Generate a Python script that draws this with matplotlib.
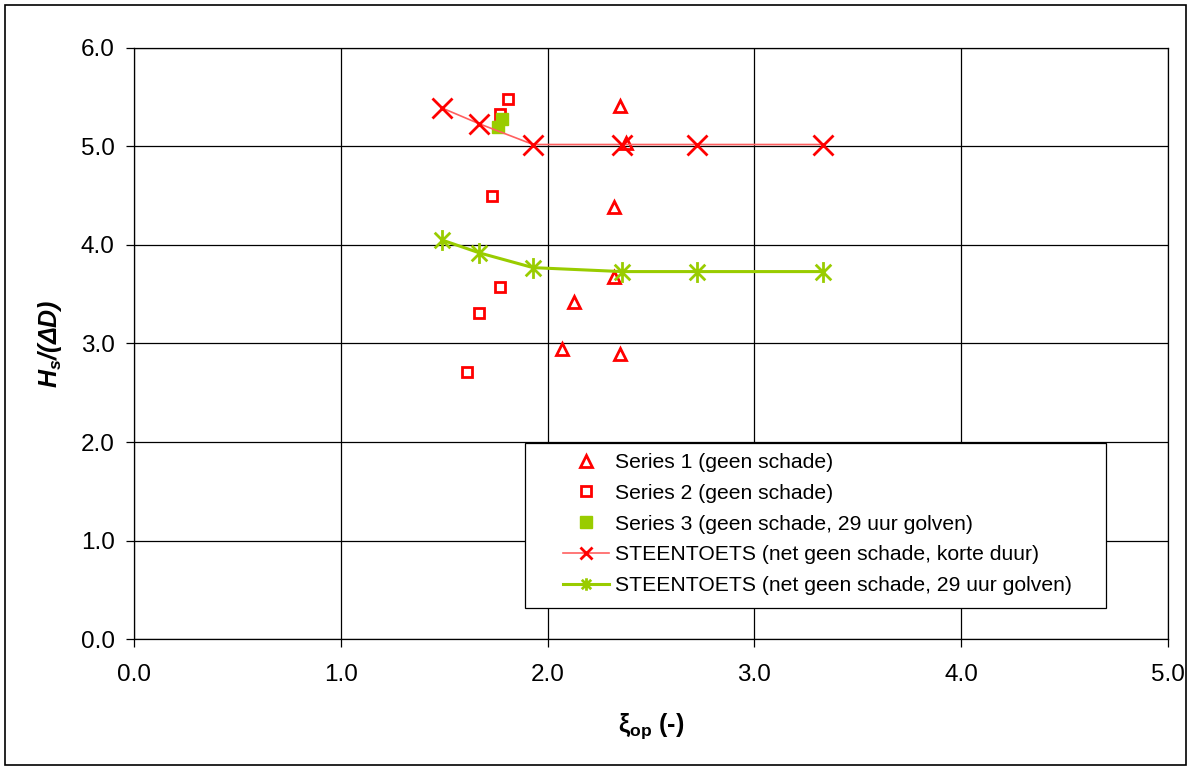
import matplotlib.pyplot as plt
from matplotlib.path import Path
from matplotlib.patches import Rectangle

plt.rcParams['font.family'] = ['Liberation Sans', 'DejaVu Sans']
plt.rcParams['mathtext.fontset'] = 'custom'
plt.rcParams['mathtext.rm'] = 'Liberation Sans'
plt.rcParams['mathtext.it'] = 'Liberation Sans:italic'
plt.rcParams['mathtext.bf'] = 'Liberation Sans:bold'
plt.rcParams['mathtext.bfit'] = 'Liberation Sans:bold:italic'

# measurements
s1_x = [2.35, 2.38, 2.32, 2.32, 2.13, 2.07, 2.35]
s1_y = [5.41, 5.04, 4.39, 3.68, 3.42, 2.94, 2.89]
s2_x = [1.81, 1.77, 1.73, 1.77, 1.67, 1.61]
s2_y = [5.48, 5.33, 4.50, 3.57, 3.31, 2.71]
s3_x = [1.76, 1.78]
s3_y = [5.20, 5.28]

# STEENTOETS curves
st_x = [1.49, 1.67, 1.93, 2.36, 2.72, 3.33]
st_kort = [5.39, 5.23, 5.02, 5.02, 5.02, 5.02]
st_29u = [4.05, 3.92, 3.77, 3.73, 3.73, 3.73]

RED = '#ff0000'
GREEN = '#99cc00'

# asterisk: vertical bar plus a cross
asterisk = Path([(0, -1), (0, 1), (-0.75, -0.75), (0.75, 0.75), (-0.75, 0.75), (0.75, -0.75)],
                [Path.MOVETO, Path.LINETO, Path.MOVETO, Path.LINETO, Path.MOVETO, Path.LINETO])

fig = plt.figure(figsize=(11.92, 7.7), dpi=100)
ax = fig.add_axes([0.1124, 0.1701, 0.8675, 0.7676])

ax.plot(s1_x, s1_y, linestyle='none', marker='^', markersize=8, markerfacecolor='none',
        markeredgecolor=RED, markeredgewidth=2, label='Series 1 (geen schade)')
ax.plot(s2_x, s2_y, linestyle='none', marker='s', markersize=7, markerfacecolor='none',
        markeredgecolor=RED, markeredgewidth=2, label='Series 2 (geen schade)')
ax.plot(s3_x, s3_y, linestyle='none', marker='s', markersize=9, color=GREEN,
        label='Series 3 (geen schade, 29 uur golven)')
ax.plot(st_x, st_kort, color='#ff6060', linewidth=1.2, marker='x', markersize=15,
        markeredgecolor=RED, markeredgewidth=2,
        label='STEENTOETS (net geen schade, korte duur)')
ax.plot(st_x, st_29u, color=GREEN, linewidth=2.2, marker=asterisk, markersize=15,
        markeredgecolor=GREEN, markeredgewidth=2,
        label='STEENTOETS (net geen schade, 29 uur golven)')

ax.set_xlim(0, 5)
ax.set_ylim(0, 6)
ax.set_xticks([0, 1, 2, 3, 4, 5])
ax.set_yticks([0, 1, 2, 3, 4, 5, 6])
ax.set_xticklabels(['%.1f' % v for v in ax.get_xticks()])
ax.set_yticklabels(['%.1f' % v for v in ax.get_yticks()])
ax.grid(True, color='black', linewidth=0.9)
ax.set_axisbelow(True)
ax.tick_params(direction='out', length=6, width=0.9, labelsize=17.5, color='black')
ax.tick_params(axis='x', pad=12)
ax.tick_params(axis='y', pad=8)
for sp in ax.spines.values():
    sp.set_color('black')
    sp.set_linewidth(0.9)

ax.set_xlabel(r'$\mathbf{\xi_{op}}$ (-)', fontsize=18, fontweight='bold', labelpad=18)
ax.set_ylabel(r'$\mathbfit{H_s/(\Delta D)}$', fontsize=18, labelpad=12)

# legend box drawn separately so the entries can sit with a wide left margin
ax.add_patch(Rectangle((0.378, 0.052), 0.562, 0.280, transform=ax.transAxes,
                       facecolor='white', edgecolor='black', linewidth=0.9, zorder=4))
leg = ax.legend(loc='upper left', bbox_to_anchor=(0.4149, 0.3147), fontsize=15.2,
                frameon=False, handlelength=2.2, handletextpad=0.25,
                labelspacing=0.56, borderpad=0, borderaxespad=0)
leg.set_zorder(5)
for h, ms in zip(leg.legend_handles, [8, 7, 9, 9, 9]):
    h.set_markersize(ms)

# outer frame around the chart
fig.patches.append(Rectangle((0.004, 0.006), 0.991, 0.988, transform=fig.transFigure,
                             fill=False, edgecolor='black', linewidth=1.2))

fig.savefig('out.png', dpi=100)
